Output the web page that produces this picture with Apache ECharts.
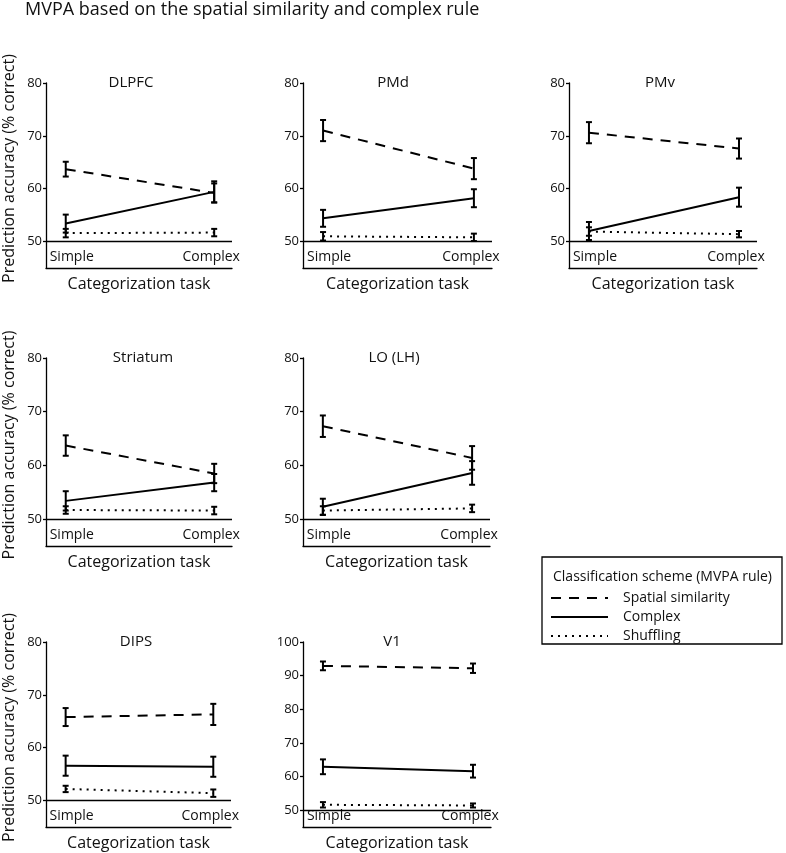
<!DOCTYPE html>
<html>
<head>
<meta charset="utf-8">
<script src="https://cdn.jsdelivr.net/npm/echarts@6/dist/echarts.min.js"></script>
<style>
  html, body { margin: 0; padding: 0; background: #fff; }
  #chart { width: 786px; height: 853px; }
</style>
</head>
<body>
<div id="chart"></div>
<script>
// data: [Simple, Complex] per region
const categories = ['Simple', 'Complex']
const regions = ['DLPFC', 'PMd', 'PMv', 'Striatum', 'LO (LH)', 'DIPS', 'V1']
const schemes = ['Spatial similarity', 'Complex', 'Shuffling']
const spatialMean = [[63.7, 59.2], [71.0, 63.8], [70.6, 67.6], [63.7, 58.5], [67.3, 61.4], [65.8, 66.3], [92.9, 92.2]]
const spatialErr = [[1.4, 1.8], [2.0, 2.0], [2.0, 1.9], [1.9, 1.8], [2.0, 2.2], [1.7, 2.0], [1.3, 1.4]]
const complexMean = [[53.4, 59.4], [54.4, 58.2], [52.0, 58.4], [53.4, 56.8], [52.3, 58.6], [56.6, 56.4], [62.9, 61.6]]
const complexErr = [[1.7, 2.0], [1.6, 1.7], [1.7, 1.8], [1.8, 1.6], [1.5, 2.2], [1.9, 1.9], [2.2, 1.9]]
const shuffleMean = [[51.6, 51.7], [51.0, 50.8], [51.9, 51.4], [51.7, 51.6], [51.6, 52.0], [52.2, 51.4], [51.6, 51.4]]
const shuffleErr = [[0.8, 0.7], [0.8, 0.7], [0.8, 0.6], [0.7, 0.7], [0.8, 0.7], [0.6, 0.7], [0.8, 0.6]]
const yTicks = [[50, 60, 70, 80], [50, 60, 70, 80], [50, 60, 70, 80], [50, 60, 70, 80], [50, 60, 70, 80], [50, 60, 70, 80], [50, 60, 70, 80, 90, 100]]
const yMax = [80, 80, 80, 80, 80, 80, 100]

// panel boxes (pixels)
const panels = [
  { left: 45, top: 83, width: 187, height: 185, tx: 131, ty: 83, yName: true },
  { left: 303, top: 83, width: 189, height: 185, tx: 393, ty: 83 },
  { left: 569, top: 83, width: 188, height: 185, tx: 660, ty: 83 },
  { left: 46, top: 358, width: 186, height: 188, tx: 143, ty: 358, yName: true },
  { left: 303, top: 358, width: 187, height: 188, tx: 394, ty: 358 },
  { left: 43, top: 642, width: 188, height: 185, tx: 136, ty: 642, yName: true },
  { left: 303, top: 642, width: 188, height: 185, tx: 392, ty: 642 }
]

const FONT = '"Open Sans", sans-serif'
const INK = '#111'

function renderErr(params, api) {
  const x = api.value(0)
  const hi = api.coord([x, api.value(2)])
  const lo = api.coord([x, api.value(1)])
  const w = 3
  const st = { stroke: '#000', lineWidth: 2 }
  return {
    type: 'group',
    children: [
      { type: 'line', shape: { x1: hi[0], y1: hi[1], x2: lo[0], y2: lo[1] }, style: st },
      { type: 'line', shape: { x1: hi[0] - w, y1: hi[1], x2: hi[0] + w, y2: hi[1] }, style: st },
      { type: 'line', shape: { x1: lo[0] - w, y1: lo[1], x2: lo[0] + w, y2: lo[1] }, style: st }
    ]
  }
}

const lineTypes = [[10, 8], 'solid', [2, 5]]
const means = [spatialMean, complexMean, shuffleMean]
const errs = [spatialErr, complexErr, shuffleErr]

const grid = [], xAxis = [], yAxis = [], series = []
const title = [{
  text: 'MVPA based on the spatial similarity and complex rule',
  left: 25, top: 10, padding: 0, textAlign: 'left', textVerticalAlign: 'middle',
  textStyle: { fontFamily: FONT, fontSize: 18, fontWeight: 'normal', color: INK }
}, {
  text: 'Classification scheme (MVPA rule)',
  left: 553, top: 577, padding: 0, textAlign: 'left', textVerticalAlign: 'middle',
  textStyle: { fontFamily: FONT, fontSize: 14, fontWeight: 'normal', color: INK }
}]

panels.forEach((p, i) => {
  grid.push({ left: p.left, top: p.top, width: p.width, height: p.height })
  title.push({
    text: regions[i], left: p.tx, top: p.ty, padding: 0,
    textAlign: 'center', textVerticalAlign: 'middle',
    textStyle: { fontFamily: FONT, fontSize: 15, fontWeight: 'normal', color: INK }
  })
  xAxis.push({
    type: 'value', gridIndex: i, min: -0.133, max: 1.12,
    name: 'Categorization task', nameLocation: 'middle', nameGap: 8,
    nameTextStyle: { fontFamily: FONT, fontSize: 16, color: INK, verticalAlign: 'top' },
    axisLine: { onZero: false, lineStyle: { color: '#000', width: 1.3 } },
    axisTick: { show: false },
    splitLine: { show: false },
    axisLabel: {
      inside: true, margin: 4, customValues: [0, 1],
      formatter: v => v === 0 ? '{s|' + categories[0] + '}' : '{c|' + categories[1] + '}',
      rich: {
        s: { fontFamily: FONT, fontSize: 14, color: INK, padding: [0, 0, 0, 12] },
        c: { fontFamily: FONT, fontSize: 14, color: INK, padding: [0, 6, 0, 0] }
      }
    }
  })
  yAxis.push({
    type: 'value', gridIndex: i, min: 45, max: yMax[i],
    name: p.yName ? 'Prediction accuracy (% correct)' : '',
    nameLocation: 'middle', nameGap: 29, nameRotate: 90,
    nameTextStyle: { fontFamily: FONT, fontSize: 16, color: INK, padding: [0, 0, 0, 14] },
    axisLine: { show: true, onZero: false, lineStyle: { color: '#000', width: 1.3 } },
    axisTick: { show: true, length: 3, customValues: yTicks[i], lineStyle: { color: '#000', width: 1.3 } },
    splitLine: { show: false },
    axisLabel: { customValues: yTicks[i], margin: 4, fontFamily: FONT, fontSize: 13, color: INK }
  })
  schemes.forEach((name, k) => {
    const s = {
      name: name, type: 'line', xAxisIndex: i, yAxisIndex: i,
      symbol: 'none', silent: true, z: 2,
      lineStyle: { color: '#000', width: 2, type: lineTypes[k] },
      itemStyle: { color: '#000' },
      data: means[k][i].map((v, j) => [j, v])
    }
    if (k === 0) {
      s.markLine = {
        silent: true, symbol: ['none', 'none'], label: { show: false },
        lineStyle: { color: '#000', width: 1.3, type: 'solid' },
        data: [{ yAxis: 50 }]
      }
    }
    series.push(s)
    series.push({
      type: 'custom', xAxisIndex: i, yAxisIndex: i, silent: true, z: 3,
      renderItem: renderErr,
      encode: { x: 0, y: [1, 2] },
      data: means[k][i].map((v, j) => [j, v - errs[k][i][j], v + errs[k][i][j]])
    })
  })
})

const chart = echarts.init(document.getElementById('chart'), null, { renderer: 'canvas' })
chart.setOption({
  animation: false,
  backgroundColor: '#fff',
  title: title,
  grid: grid,
  xAxis: xAxis,
  yAxis: yAxis,
  legend: {
    data: schemes, orient: 'vertical', left: 550, top: 591, padding: 0,
    itemWidth: 57, itemHeight: 14, itemGap: 5, selectedMode: false,
    itemStyle: { opacity: 0 },
    textStyle: { fontFamily: FONT, fontSize: 14, color: INK, padding: [0, 0, 0, 10] }
  },
  graphic: [{
    type: 'rect', shape: { x: 542, y: 557, width: 240, height: 87 },
    style: { fill: 'none', stroke: '#000', lineWidth: 1.3 }, silent: true
  }],
  series: series
})
</script>
</body>
</html>
